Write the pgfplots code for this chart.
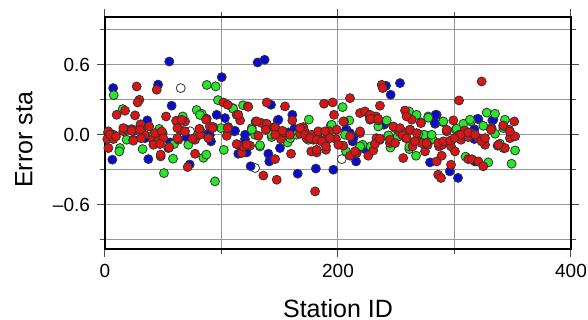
\documentclass[border=0pt]{standalone}
\usepackage{pgfplots}
\pgfplotsset{compat=1.18}
\usepackage{fontspec}
\setmainfont{Liberation Sans}
\definecolor{mred}{RGB}{220,20,20}
\definecolor{mgreen}{RGB}{40,230,40}
\definecolor{mblue}{RGB}{10,10,215}
\definecolor{gridgray}{RGB}{150,150,150}
\pgfplotsset{
  dot/.style={only marks, mark=*, mark size=2.25pt,
    mark options={fill=#1, draw=black!80, line width=0.4pt}},
}
\begin{document}
\begin{tikzpicture}
\useasboundingbox (-52.5pt,-35.5pt) rectangle (241.5pt,124.5pt);
\begin{axis}[
  at={(0,0)}, anchor=south west,
  scale only axis, width=233pt, height=116pt,
  xmin=0, xmax=400, ymin=-0.98, ymax=1.01,
  xtick={0,200,400}, xticklabels={0,200,400},
  minor xtick={100,300},
  ytick={-0.6,0,0.6}, yticklabels={–0.6,0.0,0.6},
  minor ytick={-0.9,-0.3,0.3,0.9},
  grid=both,
  major grid style={gridgray, line width=0.5pt},
  minor grid style={gridgray, line width=0.5pt},
  tick align=outside, tick pos=both,
  major tick length=4pt, minor tick length=2.5pt,
  every tick/.style={black!70, line width=0.5pt},
  every minor tick/.style={black!70, line width=0.5pt},
  axis line style={black, line width=1pt},
  tick label style={font=\fontsize{9.5}{11}\selectfont},
  label style={font=\fontsize{12.5}{15}\selectfont},
  xlabel={Station ID}, ylabel={Error sta},
  xlabel style={at={(axis description cs:0.5,-0.2931)}, anchor=base},
  ylabel style={at={(axis description cs:-0.174,0.47)}, anchor=center, rotate=0},
  clip=false,
]
\addplot[dot=white] table {
65 0.40
73 0.03
128.8 -0.285
203.2 -0.209
};
\addplot[dot=mblue] table {
7 0.40
45.6 0.43
55.2 0.628
57.2 0.249
36.3 0.123
34.3 -0.029
55.8 -0.066
70 -0.023
72.7 -0.255
87 0.0
6.3 -0.214
37.2 -0.209
100.2 0.494
131 0.62
137 0.643
95.9 0.171
103 0.143
111 0.029
90 -0.003
91 -0.057
120.2 -0.037
114.4 -0.163
121.6 -0.152
125 -0.27
140 0.057
148.2 0.123
142.5 0.257
160.8 0.171
162.5 0.029
158.8 -0.009
150.2 -0.114
140.2 -0.163
141 -0.229
165.4 -0.334
181 -0.29
196 -0.3
207.4 0.043
212.6 -0.057
215.5 -0.229
223 -0.123
239.5 0.086
241.2 0.42
253.2 0.443
245.2 0.343
284.7 0.171
283.3 0.094
279 -0.237
296 -0.314
303 -0.37
317 0.048
317 -0.037
317.6 -0.229
320.5 0.134
332.5 0.123
88.7 0.0
111.6 0.034
120.2 0.0
148.8 0.129
157.4 0.02
162.5 0.051
151.6 0.0
206.9 0.043
210.3 0.014
213.2 -0.029
224 -0.114
238.9 0.1
283.8 0.171
283.3 0.1
319.9 0.137
333.4 0.129
};
\addplot[dot=mgreen] table {
7.5 0.34
15.2 0.22
12.9 -0.114
12.3 -0.143
18.6 -0.043
32.3 -0.123
40 -0.009
43 -0.03
46.6 0.05
50.6 -0.329
58.4 -0.205
66.7 0.157
71.5 -0.086
78.7 0.212
83 0.18
80 0.0
84.5 -0.198
87.4 0.427
95 0.415
94.4 -0.4
97 0.297
99.6 0.057
102 -0.13
109.6 0.229
118.5 0.253
126 0.057
128.8 0.0
133 -0.1
143 -0.02
156.8 -0.066
159 -0.03
175 0.13
177.4 -0.02
193.7 0.077
204 0.237
206 0.0
206.9 -0.143
209.7 0.123
218.9 -0.1
228 -0.1
241.8 0.123
243.2 -0.009
245 -0.11
251 -0.02
261 0.2
261.8 0.043
261.2 -0.123
267 -0.18
267.5 0.171
270.4 0.0
274.7 -0.02
277.5 0.157
281 -0.037
289.8 0.11
301 0.045
307.6 0.094
309.5 -0.188
314.2 0.114
324.7 0.077
327.6 0.19
329 -0.237
334.8 0.18
334.8 0.009
339 -0.077
343.3 0.129
349 -0.249
352 -0.135
81.5 0.17
41.5 -0.014
59.2 -0.08
87 -0.17
110 0.223
126 0.043
143 0.0
164.5 0.0
174.5 -0.043
133 -0.09
194.6 0.086
194.6 0.0
221.1 -0.086
219 -0.1
243.2 -0.006
261.2 -0.1
234.6 0.071
313.3 0.129
301.8 0.051
341.9 0.057
277.5 0.146
290.4 0.114
274 0.0
280.4 0.0
268.9 0.006
342 -0.114
};
\addplot[dot=mred] table {
2.6 0.017
2.9 0.029
7.2 0.0
2 -0.037
7.2 -0.037
2.9 -0.114
10 0.171
17.2 0.206
25.8 0.166
27.2 0.414
29.5 0.3
28 0.277
44.4 0.386
15.7 0.03
18.6 0.043
22.9 0.048
25.8 0.037
24.3 -0.043
31.5 0.048
33.8 0.0
31 -0.03
38 0.071
30.5 0.09
41 -0.04
41.5 -0.086
46 -0.03
47.8 -0.186
49.5 0.014
52.4 0.157
54.4 -0.114
62 0.114
68.7 0.114
64.4 0.043
63 -0.043
71 -0.277
77.3 -0.043
77.3 -0.163
81.5 0.043
81.5 0.0
87.3 0.137
93 0.066
101.6 0.277
105.3 0.257
104.5 -0.009
105.8 0.066
113 0.171
116 0.123
122.5 0.243
117.3 -0.157
114.4 -0.086
118.7 -0.1
124.5 -0.094
129.3 0.114
134.5 0.1
131.6 -0.009
138.8 0.277
138.8 0.094
145.3 0.066
135.9 -0.35
146 -0.209
147.4 -0.386
151 -0.037
153 0.02
154.5 0.243
160.8 0.123
159.7 -0.163
167.4 0.009
170.2 0.066
173 -0.03
178.8 -0.043
177 -0.143
180.3 -0.486
181.7 -0.152
183.1 0.02
184.5 -0.043
188 0.266
188.8 -0.043
189.7 -0.129
192.6 0.029
195.4 0.277
196.6 0.171
198.3 -0.037
204.5 -0.094
205.2 0.114
210.3 0.314
210.3 -0.014
210.3 -0.18
216 -0.157
218.9 0.186
218.9 0.014
223.2 0.2
226.9 0.163
226 -0.18
227.5 0.129
230.3 -0.134
232.6 0.157
233 -0.029
234.6 0.123
236 0.249
236 -0.043
237.5 0.428
238.4 0.4
244.6 -0.071
249 0.057
253.2 0.02
256 -0.2
257.5 0.208
257.5 0.02
258.4 -0.029
263.3 0.129
264 -0.1
267.5 -0.049
271.2 0.106
271.8 -0.071
274.7 -0.143
277 -0.086
284.7 -0.229
286 -0.343
288.4 -0.371
286.7 -0.1
289 -0.18
289.5 -0.086
293.3 0.029
297 -0.1
297 -0.257
299 0.123
300.4 -0.143
303.9 0.294
304 0.0
305.6 -0.043
308.4 0.037
309 -0.014
311.8 -0.02
311.8 -0.209
314.7 0.014
315 -0.21
320.5 -0.029
320.5 -0.229
323.3 0.457
324.7 -0.271
326.2 -0.086
331.9 0.057
337 -0.094
341.9 0.077
343.3 -0.114
346.8 0.043
347.6 -0.029
351.3 0.114
352 -0.014
61 0.12
65.8 0.128
62.1 0.057
86.7 0.129
4.3 0.0
9.4 -0.014
22.9 0.034
15.7 0.057
30 0.043
43 0.014
48.6 0.029
50 -0.029
62.1 -0.029
68.7 0.029
75.2 -0.034
81 0.051
88.7 -0.029
24.3 -0.051
47.2 -0.08
55.2 -0.108
47.8 -0.17
114.4 0.171
123 0.24
130.2 0.114
146.2 0.062
90 0.071
92.1 0.057
105.3 0.057
138 0.043
152.2 0.034
146 0.0
158.8 0.0
171.1 0.034
167.4 0.057
171.7 0.0
177.4 0.0
113 -0.08
121.6 -0.086
227.5 0.171
227.9 0.137
234.5 0.137
247.5 0.071
253.2 0.057
257.5 0.014
261.8 0.043
267.5 0.014
258.9 0.157
204.6 0.114
183 0.029
188.8 0.029
193.1 -0.029
198.9 0.043
176 -0.029
181.7 -0.043
186 -0.057
218.9 0.029
231.7 -0.08
236 -0.034
244.6 -0.043
249 -0.071
255.5 -0.006
259 -0.029
266 -0.057
181.7 -0.129
189.7 -0.1
200.3 -0.086
214.5 -0.143
331.3 0.043
341.9 0.08
347.6 0.029
271.2 0.1
293.3 0.043
305.6 0.0
311.8 0.02
317.6 0.0
276 -0.071
286 -0.071
290.4 -0.057
296.2 -0.051
299.9 -0.029
323.3 -0.057
326.2 -0.029
337.8 -0.086
};
\end{axis}
\end{tikzpicture}
\end{document}
